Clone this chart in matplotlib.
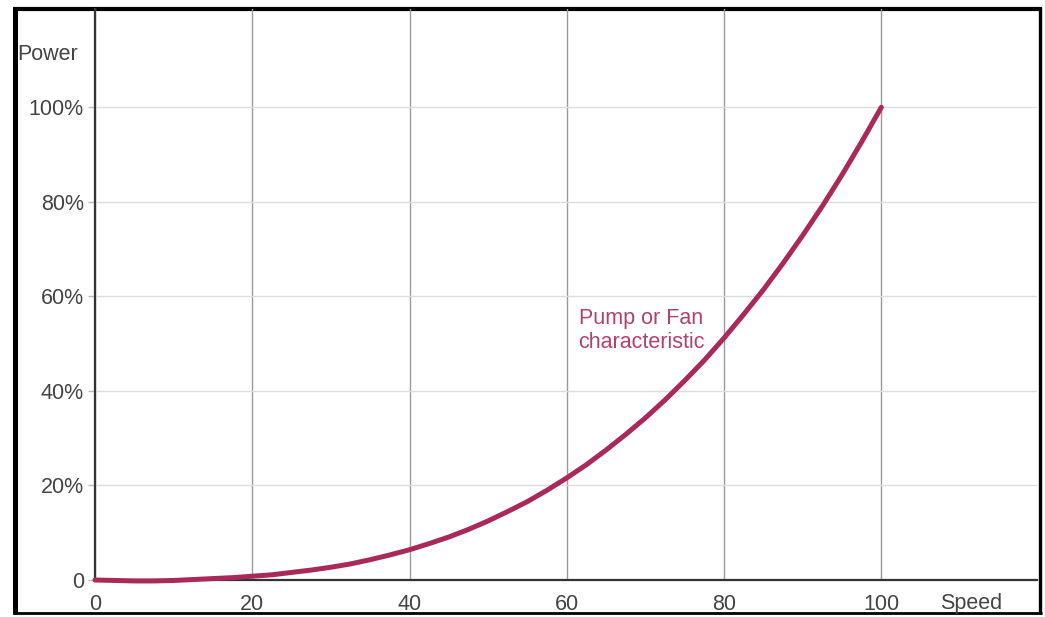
"""Pump / fan power vs speed characteristic."""

import matplotlib.pyplot as plt
from matplotlib.lines import Line2D

# speed (%) and power (%)
speed = [0, 2.5, 5, 7.5, 10, 12.5, 15, 17.5, 20, 22.5, 25, 27.5, 30,
         32.5, 35, 37.5, 40, 42.5, 45, 47.5, 50, 52.5, 55, 57.5, 60,
         62.5, 65, 67.5, 70, 72.5, 75, 77.5, 80, 82.5, 85, 87.5, 90,
         92.5, 95, 97.5, 100]
power = [0, -0.1, -0.2, -0.2, -0.1, 0.1, 0.3, 0.5, 0.8, 1.1, 1.6, 2.1, 2.7,
         3.4, 4.3, 5.3, 6.4, 7.7, 9.1, 10.7, 12.5, 14.5, 16.6, 19.0, 21.6,
         24.4, 27.5, 30.8, 34.3, 38.1, 42.2, 46.5, 51.2, 56.2, 61.4, 67.0,
         72.9, 79.1, 85.7, 92.7, 100]

x_ticks = [0, 20, 40, 60, 80, 100]
y_ticks = [0, 20, 40, 60, 80, 100]
y_labels = ["0", "20%", "40%", "60%", "80%", "100%"]

LINE_COLOR = "#a92a5a"
TEXT_COLOR = "#b3416f"
LABEL_SIZE = 15.5

plt.rcParams["font.family"] = ["Liberation Sans", "DejaVu Sans"]


def main() -> None:
    """Draw and save the chart."""
    fig = plt.figure(figsize=(10.45, 6.17), dpi=100)
    ax = fig.add_axes([95 / 1045, 37 / 617, 942 / 1045, 571 / 617])
    ax.patch.set_alpha(0)

    ax.plot(speed, power, color=LINE_COLOR, lw=3.6, solid_capstyle="round",
            zorder=3, clip_on=False)

    ax.set_xlim(0, 119.8)
    ax.set_ylim(0, 120.8)
    ax.set_xticks(x_ticks)
    ax.set_yticks(y_ticks)
    ax.set_yticklabels(y_labels)
    ax.tick_params(axis="x", length=0, pad=10, labelsize=LABEL_SIZE,
                   colors="#444444")
    ax.tick_params(axis="y", length=5, width=1, color="#bbbbbb", pad=3,
                   labelsize=LABEL_SIZE, labelcolor="#444444")

    ax.xaxis.grid(True, color="#9a9a9a", lw=1)
    ax.yaxis.grid(True, color="#dddddd", lw=1)
    ax.set_axisbelow(True)

    for side in ("top", "right"):
        ax.spines[side].set_visible(False)
    for side in ("left", "bottom"):
        ax.spines[side].set_color("#333333")
        ax.spines[side].set_linewidth(1.6)

    ax.text(61.5, 57.6, "Pump or Fan\ncharacteristic", color=TEXT_COLOR,
            fontsize=LABEL_SIZE, va="top", ha="left", linespacing=1.2)

    fig.text(17 / 1045, 1 - 55 / 617, "Power", fontsize=LABEL_SIZE,
             color="#444444", ha="left", va="center")
    fig.text(940 / 1045, 1 - 603 / 617, "Speed", fontsize=LABEL_SIZE,
             color="#444444", ha="left", va="center")

    # black frame around the picture, kept under the texts
    w, h = 1045, 617
    top, bottom = 1 - 7 / h, 1 - 614 / h
    frame = [
        ((15 / w, 15 / w), (bottom, top), 3.6),
        ((13 / w, 1042 / w), (1 - 8.5 / h, 1 - 8.5 / h), 3.0),
        ((1040 / w, 1040 / w), (bottom, top), 2.4),
        ((13 / w, 1042 / w), (1 - 613 / h, 1 - 613 / h), 2.0),
    ]
    for xs, ys, lw in frame:
        fig.add_artist(Line2D(xs, ys, color="black", lw=lw,
                              solid_capstyle="butt", zorder=-1,
                              transform=fig.transFigure))

    fig.savefig("out.png", dpi=100)


if __name__ == "__main__":
    main()
